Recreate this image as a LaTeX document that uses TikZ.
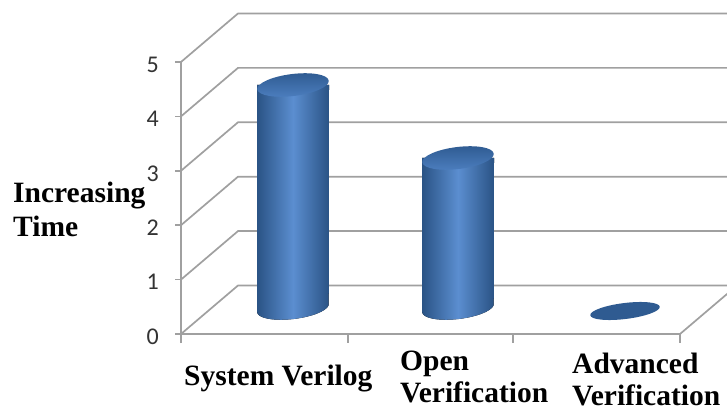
\documentclass[tikz,border=0pt]{standalone}
\usepackage{fontspec}
\setmainfont{Liberation Serif}
\newfontfamily\numfont{Carlito}
\definecolor{gridgray}{HTML}{A0A0A0}
\definecolor{cdark}{HTML}{2A5385}
\definecolor{clight}{HTML}{5B8ED0}
\definecolor{ctopa}{HTML}{2E5A90}
\definecolor{ctopb}{HTML}{4D7FC0}
\definecolor{cflat}{HTML}{2F5B91}
\definecolor{numgray}{HTML}{333333}
\begin{document}
\begin{tikzpicture}[x=1pt,y=1pt,
  gridline/.style={draw=gridgray,line width=1.7pt},
  ticknum/.style={font=\numfont\fontsize{24}{24}\selectfont,text=numgray,anchor=east,inner sep=0pt},
  catlabel/.style={font=\fontsize{29.5}{31}\selectfont\bfseries,anchor=base west,inner sep=0pt,text=black}]
\useasboundingbox (0,0) rectangle (727,412);
\fill[white] (0,0) rectangle (727,412);
\begin{scope}
\clip (0,0) rectangle (727,412);
% back wall and left wall grid lines
\foreach \i in {0,...,5} {
  \pgfmathsetmacro\yf{78+54.4*\i}
  \draw[gridline] (181,\yf) -- (238,\yf+48.5) -- (745,\yf+48.5);
}
% floor front edge and right edge
\draw[gridline] (181,78) -- (680,78) -- (737,126.5);
% front vertical axis
\draw[gridline] (181,69) -- (181,351);
% y ticks
\foreach \i in {0,...,5} {
  \pgfmathsetmacro\yf{78+54.4*\i}
  \draw[gridline] (175,\yf) -- (181,\yf);
  \node[ticknum] (t\i) at (159,\yf-2.5) {\i};
}
% x ticks
\foreach \xx in {181,348,513,680} {
  \draw[gridline] (\xx,78) -- (\xx,69);
}
\end{scope}
% cylinders
\def\ang{7}
\foreach \cx/\yb/\yt/\nm in {293/104/327/sv, 458/104/254/ov} {
  \fill[left color=cdark,right color=cdark,middle color=clight]
    (\cx-36,\yt) -- (\cx-36,\yb-4.4)
    -- plot[domain=180:360,samples=40] ({\cx+36*cos(\x)*cos(\ang)-11*sin(\x)*sin(\ang)},{\yb+36*cos(\x)*sin(\ang)+11*sin(\x)*cos(\ang)})
    -- (\cx+36,\yt) -- cycle;
  \shade[top color=ctopa,bottom color=ctopb,rotate around={\ang:(\cx,\yt)}]
    (\cx,\yt) ellipse[x radius=36,y radius=11];
  \coordinate (\nm) at (\cx,\yt);
}
\fill[cflat,rotate around={7:(625,101)}] (625,101) ellipse[x radius=35,y radius=8];
\coordinate (av) at (625,101);
% labels
\node[catlabel] (inc) at (13,209) {Increasing};
\node[catlabel] (tim) at (13,175) {Time};
\node[catlabel] (l1) at (184,27) {System Verilog};
\node[catlabel] (l2a) at (400,42) {Open};
\node[catlabel] (l2b) at (400,10) {Verification};
\node[catlabel] (l3a) at (572,39) {Advanced};
\node[catlabel] (l3b) at (572,7) {Verification};
\end{tikzpicture}
\end{document}
